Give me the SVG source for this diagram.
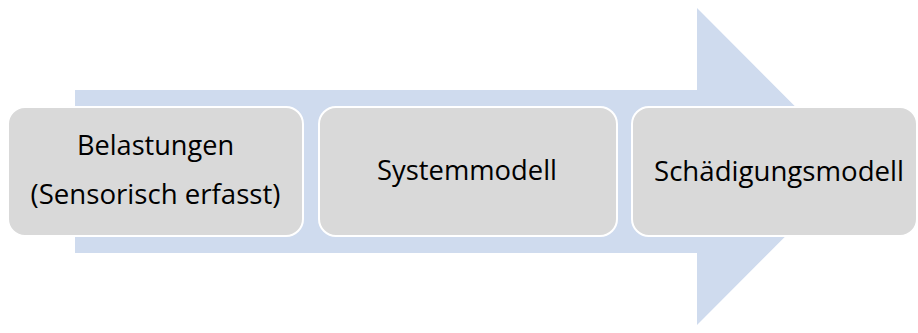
<svg xmlns="http://www.w3.org/2000/svg" width="918" height="333" viewBox="0 0 918 333">
<style>
.box{fill:#d9d9d9;stroke:#ffffff;stroke-width:2}
.lbl{font-family:"Open Sans","Liberation Sans",sans-serif;font-size:28px;fill:#000000;text-anchor:middle}
</style>
<rect width="918" height="333" fill="#ffffff"/>
<g id="connectors">
<polygon points="75,90 697,90 697,8 855,166.5 697,325 697,253 75,253" fill="#cfdbee"/>
</g>
<g id="node1">
<rect class="box" x="8" y="107" width="295" height="129" rx="17"/>
<text class="lbl" x="155.5" y="155" textLength="157" lengthAdjust="spacingAndGlyphs">Belastungen</text>
<text class="lbl" x="155.5" y="204" textLength="250" lengthAdjust="spacingAndGlyphs">(Sensorisch erfasst)</text>
</g>
<g id="node2">
<rect class="box" x="319" y="107" width="298" height="129" rx="17"/>
<text class="lbl" x="467" y="180" textLength="180" lengthAdjust="spacingAndGlyphs">Systemmodell</text>
</g>
<g id="node3">
<rect class="box" x="632" y="107" width="285" height="129" rx="17"/>
<text class="lbl" x="779" y="181" textLength="250" lengthAdjust="spacingAndGlyphs">Schädigungsmodell</text>
</g>
</svg>
